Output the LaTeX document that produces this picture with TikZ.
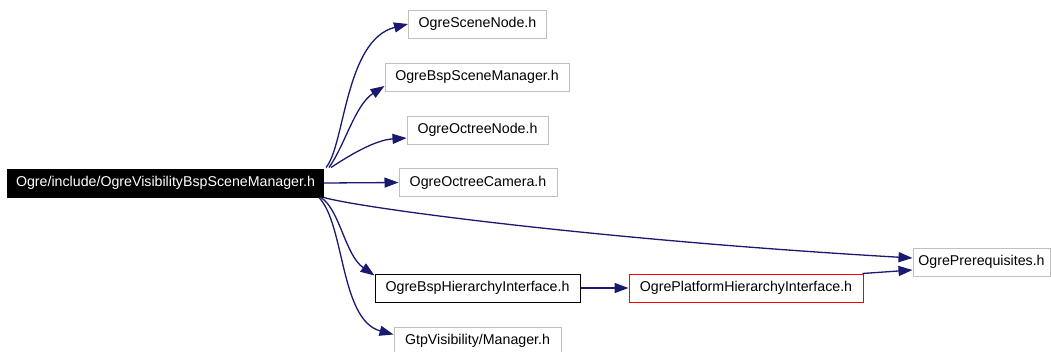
\documentclass[tikz,border=0pt]{standalone}
\usepackage{fontspec}
\setmainfont{Liberation Sans}
\usetikzlibrary{arrows.meta}
\definecolor{edgeblue}{HTML}{191970}
\definecolor{boxgray}{HTML}{BFBFBF}
\tikzset{
  filebox/.style={draw=boxgray, line width=1pt, fill=white, inner sep=0pt,
    minimum height=28pt, font=\fontsize{14.2}{16}\selectfont, text=black},
  mainbox/.style={filebox, draw=black, fill=black, text=white},
  blackbox/.style={filebox, draw=black},
  redbox/.style={filebox, draw=red},
  dep/.style={draw=edgeblue, line width=1.3pt,
    -{Triangle[length=14pt,width=10pt]}, fill=none},
}
\begin{document}
\begin{tikzpicture}[x=1pt,y=-1pt]
\useasboundingbox (0,0) rectangle (1051,351);
\clip (0,0) rectangle (1051,351);
\node[mainbox, minimum width=316pt] (main) at (165.5,183) {Ogre/include/OgreVisibilityBspSceneManager.h};
\node[filebox, minimum width=138pt] (scene) at (477.5,24) {OgreSceneNode.h};
\node[filebox, minimum width=184pt] (bspsm) at (477,77) {OgreBspSceneManager.h};
\node[filebox, minimum width=141pt] (octnode) at (477.5,130) {OgreOctreeNode.h};
\node[filebox, minimum width=158pt] (octcam) at (478,182.5) {OgreOctreeCamera.h};
\node[blackbox, minimum width=205pt] (bsphi) at (477.5,288) {OgreBspHierarchyInterface.h};
\node[filebox, minimum width=167pt] (gtp) at (477.5,341) {GtpVisibility/Manager.h};
\node[redbox, minimum width=234pt] (platform) at (746,288) {OgrePlatformHierarchyInterface.h};
\node[filebox, minimum width=137pt] (prereq) at (981.5,262) {OgrePrerequisites.h};

\draw[dep] ([xshift=2pt,yshift=1pt]main.north east) .. controls (345,145) and (345,40) .. (scene.west);
\draw[dep] ([xshift=5pt,yshift=1pt]main.north east) .. controls (345,145) and (355,105) .. ([yshift=-9pt]bspsm.west);
\draw[dep] ([xshift=7pt,yshift=1pt]main.north east) .. controls (350,155) and (375,140) .. ([yshift=-8pt]octnode.west);
\draw[dep] (main.east) -- (octcam.west);
\draw[dep] (main.south east) .. controls (360,208) and (600,240) .. ([yshift=4pt]prereq.west);
\draw[dep] ([xshift=-3pt]main.south east) .. controls (340,210) and (345,255) .. ([yshift=-2pt]bsphi.north west);
\draw[dep] ([xshift=-5pt]main.south east) .. controls (345,225) and (340,320) .. ([yshift=-8pt]gtp.north west);
\draw[dep] (bsphi.east) -- (platform.west);
\draw[dep] ([xshift=-1pt]platform.north east) -- ([yshift=-8pt]prereq.west);
\end{tikzpicture}
\end{document}
